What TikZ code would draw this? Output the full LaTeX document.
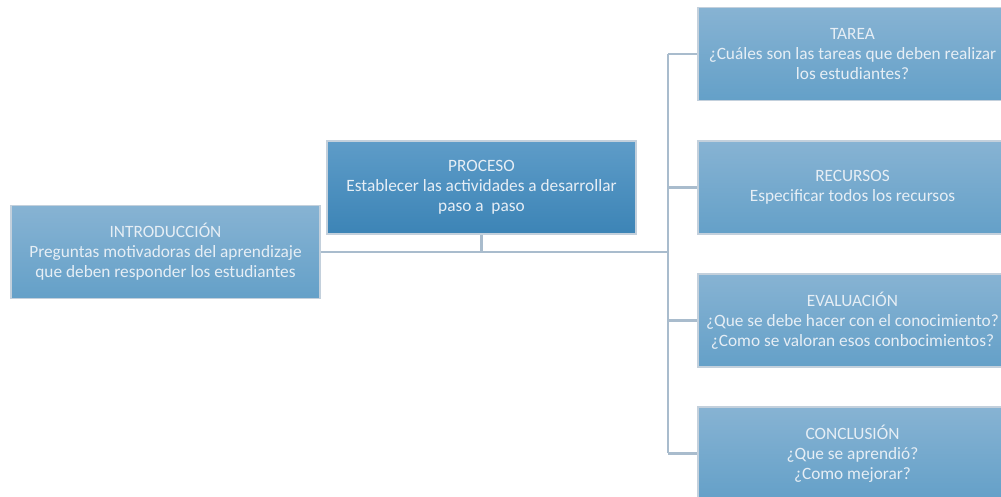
\documentclass[tikz,border=0pt]{standalone}
\usepackage{fontspec}
\setmainfont{Carlito}
\definecolor{cajaArriba}{HTML}{87B3D3}
\definecolor{cajaAbajo}{HTML}{64A0C8}
\definecolor{procArriba}{HTML}{5E9CC8}
\definecolor{procAbajo}{HTML}{3C84B6}
\definecolor{linea}{HTML}{A9BCCD}
\definecolor{texto}{HTML}{E6EEF5}
\tikzset{
  caja/.style={rectangle, draw=linea!70, line width=0.8pt, top color=cajaArriba, bottom color=cajaAbajo,
    minimum width=7.725cm, minimum height=2.325cm, align=center, text=texto,
    font=\fontsize{12.3}{14.3}\selectfont},
  cajaproc/.style={caja, top color=procArriba, bottom color=procAbajo},
  conector/.style={draw=linea, line width=1.5pt}
}
\begin{document}
\begin{tikzpicture}[x=0.025cm,y=-0.025cm]
        \useasboundingbox (0,0) rectangle (1001,497);
        % cajas
        \node[caja] (intro) at (165.5,252) {INTRODUCCIÓN\\Preguntas motivadoras del aprendizaje\\que deben responder los estudiantes};
        \node[cajaproc] (proceso) at (481.5,187.5) {PROCESO\\Establecer las actividades a desarrollar\\paso a~ paso};
        \node[caja] (tarea) at (852.5,54) {TAREA\\¿Cuáles son las tareas que deben realizar\\los estudiantes?};
        \node[caja] (recursos) at (852.5,187.5) {RECURSOS\\Especificar todos los recursos};
        \node[caja] (evaluacion) at (852.5,320.5) {EVALUACIÓN\\¿Que se debe hacer con el conocimiento?\\¿Como se valoran esos conbocimientos?};
        \node[caja] (conclusion) at (852.5,453.5) {CONCLUSIÓN\\¿Que se aprendió?\\¿Como mejorar?};
        % conectores
        \coordinate (eje) at (668,252);
        \coordinate (cruce) at (proceso.south |- eje);
        \draw[conector] (intro.east) -- (eje);
        \draw[conector] (proceso.south) -- (cruce);
        \draw[conector] (eje |- tarea.west) -- (eje |- conclusion.west);
        \foreach \n in {tarea,recursos,evaluacion,conclusion} \draw[conector] (eje |- \n.west) -- (\n.west);
        \end{tikzpicture}
\end{document}
